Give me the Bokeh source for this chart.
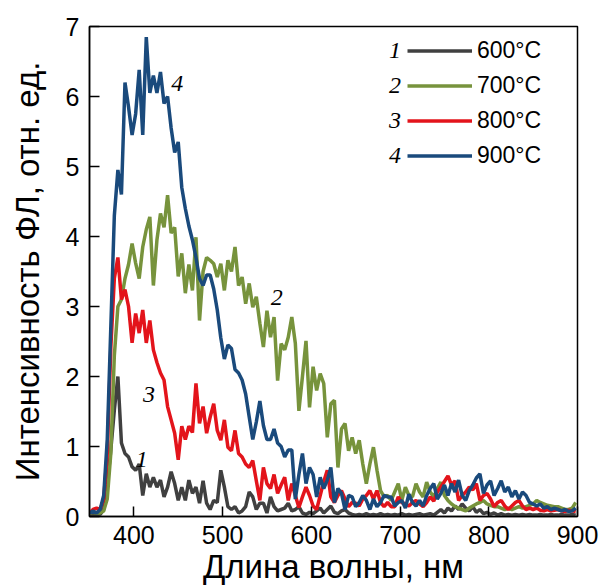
from bokeh.plotting import figure
from bokeh.models import Range1d, Legend, LegendItem, Label, FixedTicker
from bokeh.embed import file_html
from bokeh.resources import INLINE

wavelength = list(range(350, 900, 4))

t600 = [0.02, 0.03, 0.02, 0.03, 0.10, 0.45, 0.95, 1.52, 2.00, 1.05,
        0.90, 0.85, 0.71, 0.66, 0.75, 0.30, 0.61, 0.42, 0.56, 0.42,
        0.52, 0.28, 0.42, 0.64, 0.47, 0.23, 0.42, 0.23, 0.52, 0.33,
        0.42, 0.19, 0.51, 0.19, 0.10, 0.23, 0.20, 0.66, 0.42, 0.14,
        0.10, 0.14, 0.05, 0.08, 0.14, 0.35, 0.28, 0.10, 0.19, 0.19,
        0.05, 0.28, 0.14, 0.08, 0.10, 0.12, 0.19, 0.08, 0.10, 0.14,
        0.05, 0.03, 0.06, 0.04, 0.08, 0.12, 0.05, 0.10, 0.15, 0.06,
        0.04, 0.08, 0.10, 0.05, 0.03, 0.02, 0.03, 0.02, 0.04, 0.02,
        0.03, 0.02, 0.04, 0.02, 0.03, 0.02, 0.03, 0.02, 0.04, 0.02,
        0.03, 0.02, 0.03, 0.04, 0.02, 0.03, 0.04, 0.02, 0.06, 0.10,
        0.05, 0.12, 0.08, 0.15, 0.10, 0.18, 0.12, 0.08, 0.14, 0.06,
        0.10, 0.04, 0.06, 0.03, 0.05, 0.02, 0.04, 0.02, 0.03, 0.02,
        0.03, 0.02, 0.03, 0.02, 0.03, 0.02, 0.02, 0.03, 0.02, 0.02,
        0.03, 0.02, 0.02, 0.03, 0.02, 0.02, 0.03, 0.02]

t700 = [0.05, 0.06, 0.05, 0.05, 0.08, 0.25, 0.90, 2.30, 3.00, 3.10,
        3.40, 3.60, 3.90, 3.62, 3.40, 3.85, 4.10, 4.28, 3.30, 3.95,
        4.33, 4.13, 4.59, 4.05, 4.13, 3.43, 3.76, 3.19, 3.60, 3.23,
        3.99, 2.80, 3.50, 3.70, 3.66, 3.61, 3.42, 3.61, 3.23, 3.66,
        3.50, 3.85, 3.30, 3.42, 3.04, 3.33, 2.99, 3.14, 2.76, 2.42,
        2.94, 2.56, 2.85, 1.94, 2.47, 2.38, 2.56, 2.85, 2.47, 1.51,
        2.00, 2.51, 1.56, 2.14, 1.80, 2.04, 1.90, 1.13, 1.61, 1.66,
        0.70, 1.25, 1.33, 0.94, 1.13, 0.90, 1.09, 0.75, 0.47, 0.75,
        0.99, 0.66, 0.37, 0.28, 0.30, 0.23, 0.35, 0.47, 0.23, 0.42,
        0.30, 0.28, 0.47, 0.35, 0.28, 0.49, 0.35, 0.28, 0.40, 0.49,
        0.30, 0.23, 0.18, 0.14, 0.12, 0.10, 0.08, 0.12, 0.15, 0.18,
        0.20, 0.23, 0.18, 0.16, 0.14, 0.14, 0.12, 0.10, 0.12, 0.10,
        0.12, 0.14, 0.12, 0.14, 0.16, 0.18, 0.23, 0.20, 0.18, 0.16,
        0.15, 0.14, 0.14, 0.12, 0.10, 0.10, 0.12, 0.20]

t800 = [0.05, 0.10, 0.12, 0.10, 0.25, 0.90, 2.40, 3.40, 3.70, 3.10,
        3.24, 3.00, 2.48, 2.90, 2.62, 2.95, 2.48, 2.80, 2.38, 2.20,
        2.05, 1.95, 1.57, 1.38, 1.19, 0.81, 1.29, 1.10, 1.29, 1.20,
        1.90, 1.33, 1.57, 1.19, 1.42, 1.61, 1.23, 1.09, 1.38, 0.99,
        0.94, 1.23, 0.90, 0.85, 0.75, 0.70, 0.80, 0.51, 0.23, 0.70,
        0.47, 0.40, 0.60, 0.33, 0.45, 0.56, 0.23, 0.47, 0.30, 0.13,
        0.28, 0.42, 0.30, 0.15, 0.10, 0.30, 0.50, 0.66, 0.28, 0.20,
        0.30, 0.37, 0.25, 0.14, 0.20, 0.19, 0.15, 0.25, 0.30, 0.37,
        0.25, 0.37, 0.20, 0.14, 0.20, 0.14, 0.14, 0.28, 0.20, 0.18,
        0.15, 0.20, 0.23, 0.18, 0.14, 0.20, 0.28, 0.22, 0.35, 0.42,
        0.50, 0.58, 0.45, 0.51, 0.23, 0.30, 0.35, 0.42, 0.38, 0.47,
        0.23, 0.30, 0.33, 0.25, 0.14, 0.20, 0.23, 0.15, 0.10, 0.15,
        0.20, 0.23, 0.15, 0.10, 0.12, 0.10, 0.12, 0.09, 0.08, 0.10,
        0.08, 0.09, 0.10, 0.08, 0.07, 0.09, 0.08, 0.07]

t900 = [0.05, 0.08, 0.05, 0.10, 0.30, 1.10, 2.70, 4.30, 4.95, 4.60,
        6.20, 5.85, 5.45, 5.75, 6.38, 5.45, 6.85, 6.05, 6.30, 6.05,
        6.35, 5.90, 6.00, 5.55, 5.20, 5.35, 4.70, 4.40, 4.15, 3.95,
        3.70, 3.40, 3.30, 3.45, 3.45, 3.25, 2.95, 2.55, 2.25, 2.45,
        2.40, 2.10, 2.05, 1.95, 1.75, 1.42, 1.10, 1.35, 1.65, 1.30,
        1.10, 1.10, 1.25, 1.05, 1.00, 0.85, 0.95, 0.95, 0.25, 0.60,
        0.90, 0.47, 0.70, 0.60, 0.28, 0.56, 0.40, 0.52, 0.70, 0.20,
        0.40, 0.33, 0.10, 0.30, 0.28, 0.14, 0.20, 0.30, 0.23, 0.10,
        0.25, 0.14, 0.20, 0.30, 0.28, 0.28, 0.15, 0.20, 0.23, 0.12,
        0.32, 0.20, 0.15, 0.23, 0.15, 0.30, 0.40, 0.47, 0.25, 0.33,
        0.45, 0.30, 0.47, 0.35, 0.52, 0.30, 0.23, 0.37, 0.45, 0.55,
        0.61, 0.33, 0.45, 0.51, 0.30, 0.40, 0.51, 0.35, 0.42, 0.28,
        0.37, 0.25, 0.35, 0.30, 0.20, 0.18, 0.15, 0.18, 0.12, 0.14,
        0.10, 0.12, 0.10, 0.08, 0.10, 0.07, 0.08, 0.12]

series_labels = ["600°C", "700°C", "800°C", "900°C"]
series_numbers = ["1", "2", "3", "4"]
series_colors = ["#404040", "#77933C", "#E3141B", "#1A4A7C"]
x_ticks = [400, 500, 600, 700, 800, 900]
y_ticks = [0, 1, 2, 3, 4, 5, 6, 7]

# curve-number annotations (wavelength, intensity)
curve_label_x = [409, 561, 417, 449]
curve_label_y = [0.81, 3.13, 1.74, 6.18]

p = figure(width=602, height=587, x_range=Range1d(350, 900), y_range=Range1d(0, 7),
           output_backend="svg", toolbar_location=None,
           min_border_left=89, min_border_right=25, min_border_top=26, min_border_bottom=71)
p.grid.visible = False
p.outline_line_color = "black"
p.outline_line_width = 1.5
p.background_fill_color = "white"
p.border_fill_color = "white"

renderers = []
for ys, c in zip([t600, t700, t800, t900], series_colors):
    r = p.line(wavelength, ys, line_color=c, line_width=3.5)
    renderers.append(r)

for ax, ticks in ((p.xaxis[0], x_ticks), (p.yaxis[0], y_ticks)):
    ax.ticker = FixedTicker(ticks=ticks, minor_ticks=[])
    ax.major_tick_in = 10
    ax.major_tick_out = 0
    ax.minor_tick_in = 0
    ax.minor_tick_out = 0
    ax.major_tick_line_width = 1.5
    ax.axis_line_width = 1.5
    ax.axis_line_color = "black"
    ax.major_tick_line_color = "black"
    ax.major_label_text_font = "Liberation Sans"
    ax.major_label_text_font_size = "25px"
    ax.major_label_text_color = "black"
    ax.axis_label_text_font = "Liberation Sans"
    ax.axis_label_text_font_size = "33px"
    ax.axis_label_text_font_style = "normal"
    ax.axis_label_text_color = "black"

p.xaxis.axis_label = "Длина волны, нм"
p.yaxis.axis_label = "Интенсивность ФЛ, отн. ед."
p.xaxis.major_label_standoff = 9
p.xaxis.axis_label_standoff = 1
p.yaxis.major_label_standoff = 10
p.yaxis.axis_label_standoff = 17

legend = Legend(items=[LegendItem(label=lab, renderers=[r]) for lab, r in zip(series_labels, renderers)],
                location=(318, 343), glyph_width=65, glyph_height=35, label_height=35,
                spacing=0, padding=0, margin=0, label_standoff=5,
                label_text_font="Liberation Sans", label_text_font_size="23px",
                label_text_color="black",
                border_line_alpha=0, background_fill_alpha=0)
p.add_layout(legend)

legend_num_y = [6.66, 6.16, 5.66, 5.16]
for num, yy in zip(series_numbers, legend_num_y):
    p.add_layout(Label(x=701, y=yy, text=num, text_align="right", text_baseline="middle",
                       text_font="Liberation Serif", text_font_style="italic",
                       text_font_size="24px", text_color="black"))

for num, xx, yy in zip(series_numbers, curve_label_x, curve_label_y):
    p.add_layout(Label(x=xx, y=yy, text=num, text_align="center", text_baseline="middle",
                       text_font="Liberation Serif", text_font_style="italic",
                       text_font_size="24px", text_color="black"))

open("out.html", "w").write(file_html(p, INLINE))
